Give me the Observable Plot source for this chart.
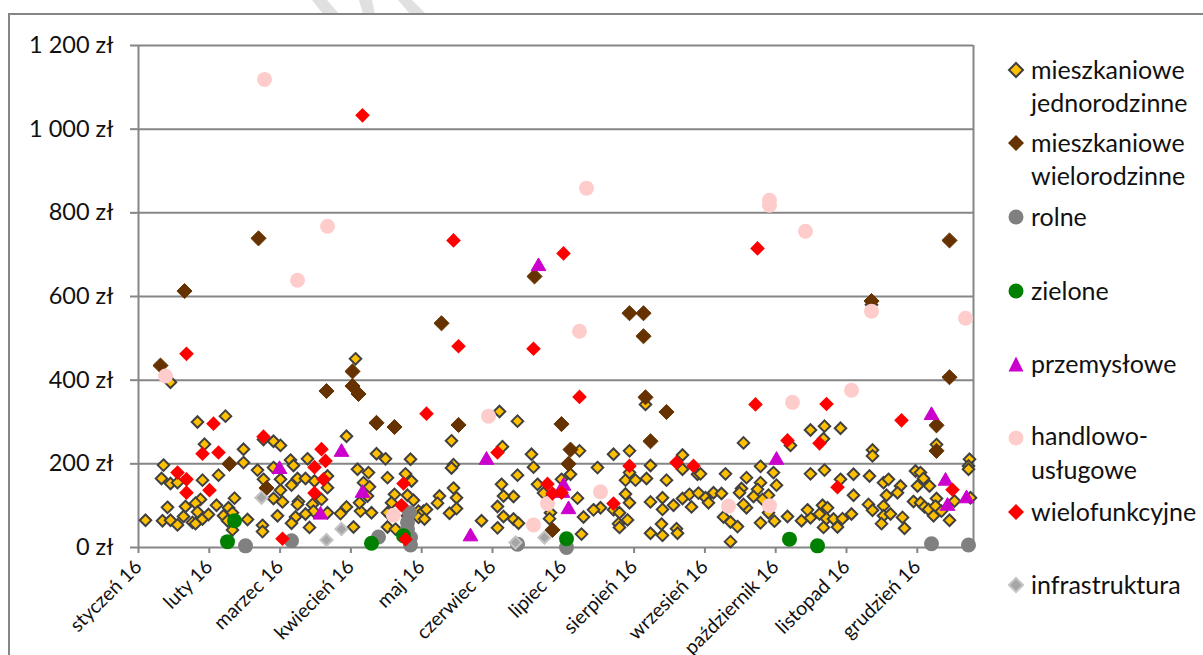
<!DOCTYPE html>
<html lang="pl">
<head>
<meta charset="utf-8">
<script src="https://cdn.jsdelivr.net/npm/d3@7"></script>
<script src="https://cdn.jsdelivr.net/npm/@observablehq/plot@0.6"></script>
<style>
html,body{margin:0;padding:0;background:#fff;width:1203px;height:655px;overflow:hidden;font-family:Lato,"Open Sans",sans-serif;}
.wm{position:absolute;top:0;height:14px;background:#e0e0e0;}
#wm1{left:312px;width:27px;clip-path:polygon(0 0,15px 0,27px 14px,11px 14px);}
#wm2{left:359px;width:17px;clip-path:polygon(0 0,13px 0,16px 14px,4px 14px);}
#wm3{left:398px;width:28px;clip-path:polygon(0 0,14px 0,28px 14px,12px 14px);}
#frame{position:absolute;left:8px;top:13px;width:1197px;height:660px;border:2px solid #868686;box-sizing:border-box;}
#chart{position:absolute;left:0;top:0;}
.lg{position:absolute;left:1031px;font-size:25px;line-height:33px;color:#111;white-space:nowrap;}
.mk{position:absolute;left:1006px;width:20px;height:20px;}
</style>
</head>
<body>
<div class="wm" id="wm1"></div><div class="wm" id="wm2"></div><div class="wm" id="wm3"></div>
<div id="frame"></div>
<div id="chart"></div>
<script>
const monthLabels = ["styczeń 16","luty 16","marzec 16","kwiecień 16","maj 16","czerwiec 16","lipiec 16","sierpień 16","wrzesień 16","październik 16","listopad 16","grudzień 16"];
const monthTicks = [0,70.8,141.6,212.4,283.2,354,424.8,495.6,566.4,637.2,708,778.8];
const yTicks = [0,200,400,600,800,1000,1200];

// [position on the category axis, value in zł]
const jednorodzinne = [
[32,395],[217,451],[59,300],[87,314],[66,247],[105,235],[25,197],[105,203],[23,165],[32,153],[39,155],[64,161],[80,173],[119,185],[125,163],[96,118],[62,115],[57,106],[47,98],[29,96],[7,65],[24,64],[32,65],[39,54],[45,74],[54,60],[57,57],[59,85],[64,68],[70,79],[78,101],[90,95],[85,76],[94,83],[89,64],[94,42],[109,67],[124,53],[124,38],[139,76],[135,117],[144,109],[142,137],[142,163],[135,191],[125,258],[135,254],[142,244],[152,209],[155,196],[169,212],[153,149],[159,165],[167,165],[176,159],[189,171],[189,143],[183,115],[160,110],[159,103],[174,103],[175,87],[167,80],[157,73],[153,58],[171,48],[189,83],[202,81],[208,97],[215,49],[222,87],[233,83],[221,107],[229,123],[230,179],[219,187],[225,155],[231,145],[249,167],[238,224],[247,212],[272,211],[267,176],[273,159],[256,127],[269,125],[275,113],[253,107],[249,83],[249,49],[208,266],[269,76],[280,87],[280,72],[257,44],
[361,325],[379,302],[313,255],[364,241],[315,198],[313,190],[393,223],[395,192],[379,173],[363,151],[399,151],[423,163],[432,175],[375,122],[365,123],[315,142],[318,119],[301,123],[299,106],[318,93],[311,82],[285,87],[288,91],[286,68],[343,64],[359,98],[365,74],[359,47],[375,68],[380,58],[405,130],[439,118],[412,83],[411,69],[441,231],[459,191],[475,223],[491,231],[512,196],[487,161],[491,179],[497,161],[508,165],[528,161],[487,128],[491,107],[512,109],[524,119],[524,91],[535,101],[544,117],[553,97],[551,127],[560,130],[544,221],[544,187],[559,175],[507,342],[462,95],[455,90],[445,73],[443,32],[475,90],[481,83],[489,66],[480,57],[481,48],[523,56],[512,34],[524,29],[538,45],[539,34],
[562,176],[587,176],[605,250],[608,167],[603,141],[601,131],[575,131],[583,129],[567,119],[570,107],[608,95],[605,103],[585,73],[592,61],[599,50],[592,14],[622,194],[622,155],[635,179],[638,149],[619,139],[615,122],[630,125],[624,115],[630,83],[622,59],[636,63],[649,74],[663,64],[672,71],[669,90],[681,80],[684,101],[689,95],[688,69],[695,68],[685,48],[699,49],[704,69],[713,80],[672,281],[686,290],[702,285],[652,244],[685,260],[734,233],[734,219],[672,176],[686,185],[702,163],[715,175],[731,171],[715,125],[730,103],[734,89],[745,155],[750,163],[762,147],[759,131],[748,125],[745,99],[745,76],[752,80],[764,72],[743,57],[766,46],[777,183],[782,179],[785,165],[791,147],[779,147],[775,110],[782,107],[786,97],[790,91],[798,117],[797,99],[795,76],[803,87],[816,111],[811,65],[831,211],[830,195],[830,187],[832,119],[798,246],[733,580]];
const wielorodzinne = [[22,435],[214,421],[214,386],[220,367],[188,374],[238,298],[256,288],[91,200],[128,142],[320,293],[423,295],[432,234],[430,200],[507,359],[528,324],[512,254],[414,42],[120,739],[46,613],[303,536],[396,648],[491,560],[505,560],[505,505],[733,589],[811,734],[811,407],[798,292],[798,231]];
const rolne = [[107,4],[153,16],[240,25],[272,6],[271,83],[269,60],[269,44],[272,24],[379,8],[428,0],[793,9],[830,6]];
const zielone = [[96,64],[89,14],[233,10],[265,28],[428,21],[651,20],[679,4]];
const przemyslowe = [[400,672],[141,187],[203,228],[224,130],[182,78],[348,209],[425,147],[424,130],[430,91],[332,26],[638,209],[793,316],[807,159],[809,99],[828,117]];
const handlowe = [[126,1119],[159,639],[189,768],[448,859],[441,517],[631,830],[631,818],[667,756],[733,565],[827,548],[27,410],[255,77],[350,314],[462,133],[409,105],[395,54],[654,347],[713,376],[590,99],[631,100]];
const wielofunkcyjne = [[48,463],[75,296],[64,224],[80,227],[39,179],[48,163],[48,131],[71,137],[125,265],[183,235],[187,207],[176,192],[185,163],[176,130],[265,153],[263,101],[267,20],[144,21],[288,320],[320,481],[395,475],[441,360],[359,227],[409,152],[414,129],[423,131],[475,105],[491,195],[538,203],[555,195],[617,342],[688,343],[649,256],[681,249],[763,304],[699,144],[814,138],[224,1033],[315,734],[425,703],[619,715]];
const infrastruktura = [[123,119],[188,18],[203,44],[377,12],[406,24]];

const axisColor = "#868686";
const fmtZl = d => d3.format(",")(d).replace(/,/g, " ") + " zł";
const pt = (data, o) => Plot.dot(data, {x: d => d[0], y: d => d[1], ...o});

const svg = Plot.plot({
  width: 1203, height: 655,
  marginLeft: 138, marginRight: 230, marginTop: 45, marginBottom: 108,
  style: {background: "transparent", fontFamily: "Lato, 'Open Sans', sans-serif", overflow: "visible"},
  x: {domain: [0, 835], axis: null},
  y: {domain: [0, 1200], axis: null},
  marks: [
    Plot.ruleY(yTicks, {stroke: axisColor, strokeWidth: 2, strokeOpacity: 1}),
    Plot.ruleX([0, 835], {stroke: axisColor, strokeWidth: 2}),
    Plot.axisY({ticks: yTicks, tickFormat: fmtZl, tickSize: 8, tickPadding: 17, stroke: axisColor, strokeWidth: 2, strokeOpacity: 1, fontSize: 23.5, color: "#111", label: null, marginLeft: 138}),
    Plot.axisX({ticks: monthTicks, tickFormat: d => monthLabels[monthTicks.indexOf(d)], tickSize: 6, tickRotate: -45, tickPadding: 10, stroke: axisColor, strokeWidth: 2, strokeOpacity: 1, fontSize: 19.5, color: "#111", label: null, marginBottom: 108}),
    pt(jednorodzinne, {symbol: "diamond2", r: 5.2, fill: "#FFC000", stroke: "#404040", strokeWidth: 2}),
    pt(wielorodzinne, {symbol: "diamond2", r: 6.8, fill: "#663300", stroke: "#663300", strokeWidth: 1}),
    pt(rolne, {r: 7.5, fill: "#808080"}),
    pt(zielone, {r: 7.5, fill: "#008000"}),
    pt(przemyslowe, {symbol: "triangle2", r: 7, fill: "#CC00CC", stroke: "#CC00CC", strokeWidth: 1}),
    pt(handlowe, {r: 7.5, fill: "#FFCCCC"}),
    pt(wielofunkcyjne, {symbol: "diamond2", r: 6.6, fill: "#FF0000"}),
    pt(infrastruktura, {symbol: "diamond2", r: 5.5, fill: "#A6A6A6", stroke: "#C4C4C4", strokeWidth: 2})
  ]
});
document.getElementById("chart").appendChild(svg);

const legendTexts = [
  ["mieszkaniowe", 70], ["jednorodzinne", 103], ["mieszkaniowe", 143], ["wielorodzinne", 176],
  ["rolne", 217], ["zielone", 291], ["przemysłowe", 364], ["handlowo-", 436], ["usługowe", 470],
  ["wielofunkcyjne", 512], ["infrastruktura", 585]
];
for (const [t, y] of legendTexts) {
  const el = document.createElement("div");
  el.className = "lg"; el.textContent = t; el.style.top = (y - 17) + "px";
  document.body.appendChild(el);
}
const legendMarks = [
  [70, '<path d="M10 3L17 10L10 17L3 10Z" fill="#FFC000" stroke="#404040" stroke-width="2"/>'],
  [143, '<path d="M10 2L18 10L10 18L2 10Z" fill="#663300"/>'],
  [217, '<circle cx="10" cy="10" r="7.5" fill="#808080"/>'],
  [291, '<circle cx="10" cy="10" r="7.5" fill="#008000"/>'],
  [364, '<path d="M10 2.5L17.5 17.5L2.5 17.5Z" fill="#CC00CC"/>'],
  [438, '<circle cx="10" cy="10" r="7.5" fill="#FFCCCC"/>'],
  [512, '<path d="M10 2L18 10L10 18L2 10Z" fill="#FF0000"/>'],
  [585, '<path d="M10 3L17 10L10 17L3 10Z" fill="#A6A6A6" stroke="#C4C4C4" stroke-width="2"/>']
];
for (const [y, s] of legendMarks) {
  const el = document.createElement("div");
  el.className = "mk"; el.style.top = (y - 10) + "px";
  el.innerHTML = '<svg width="20" height="20">' + s + '</svg>';
  document.body.appendChild(el);
}
</script>
</body>
</html>
